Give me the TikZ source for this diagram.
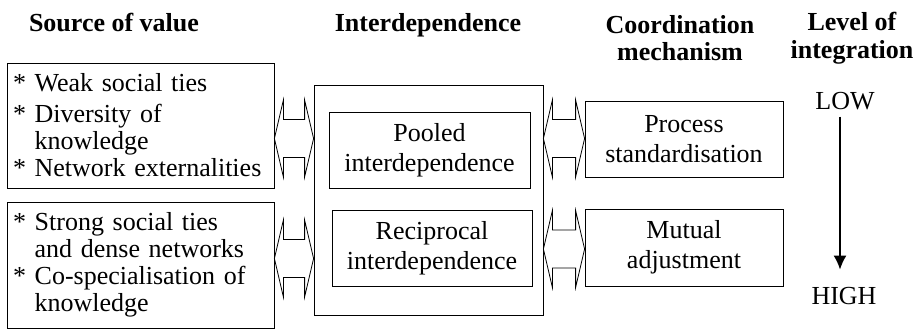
\documentclass[tikz,border=0pt]{standalone}
\usepackage{fontspec}
\setmainfont{Liberation Serif}
\usetikzlibrary{arrows.meta,calc}
\tikzset{
  srcbox/.style={draw, line width=0.8pt, minimum width=267pt, minimum height=125pt, text width=255pt, align=left, inner sep=0pt, font=\fontsize{26}{27}\selectfont},
  midbox/.style={draw, line width=0.8pt, minimum width=200pt, minimum height=76pt, align=center, inner sep=0pt, font=\fontsize{26}{30}\selectfont},
  heading/.style={font=\fontsize{26}{28}\selectfont\bfseries, align=center, inner sep=0pt},
  levelname/.style={font=\fontsize{26}{28}\selectfont, inner sep=0pt},
  levelarrow/.style={-{Latex[length=14pt,width=13pt]}, line width=1.6pt},
  twoway/.style={line width=0.8pt, to path={let \p1=(\tikztostart), \p2=(\tikztotarget) in
    -- (\x1+9pt,\y1+38.5pt) -- (\x1+9pt,\y1+19pt) -- (\x2-9pt,\y1+19pt)
    -- (\x2-9pt,\y1+38.5pt) -- (\x2,\y1) -- (\x2-9pt,\y1-38.5pt)
    -- (\x2-9pt,\y1-19pt) -- (\x1+9pt,\y1-19pt) -- (\x1+9pt,\y1-38.5pt) -- cycle}}
}

\begin{document}
\begin{tikzpicture}[x=1pt, y=-1pt]
  \useasboundingbox (0,0) rectangle (913,329);

  \node[heading, anchor=base] (hsource) at (114,32) {Source of value};
  \node[heading, anchor=base] (hinter) at (428,32) {Interdependence};
  \node[heading, anchor=base] (hcoord) at (680,61) {Coordination\\mechanism};
  \node[heading, anchor=base] (hlevel) at (852,59) {Level of\\integration};

  \node[srcbox] (weak) at (140.5,125.5) {{*}~Weak social ties\\[4pt] {*}~Diversity of\\ \hphantom{*~}knowledge\\ {*}~Network externalities};
  \node[srcbox, minimum height=126pt] (strong) at (140.5,265) {{*}~Strong social ties\\ \hphantom{*~}and dense networks\\ {*}~Co-specialisation of\\ \hphantom{*~}knowledge};

  \node[draw, line width=0.8pt, minimum width=229pt, minimum height=230pt] (inter) at (428.5,200) {};
  \node[midbox, minimum width=201pt] (pooled) at (429.5,150) {Pooled\\interdependence};
  \node[midbox] (recip) at (432,248) {Reciprocal\\interdependence};

  \node[midbox, minimum width=198pt] (process) at (684,139) {Process\\standardisation};
  \node[midbox, minimum width=198pt, minimum height=77pt] (mutual) at (684,247.5) {Mutual\\adjustment};

  \node[levelname] (low) at (845,101.5) {LOW};
  \node[levelname] (high) at (844,296.5) {HIGH};

  \coordinate (row1) at (0,138.5);
  \coordinate (row2) at (0,258.5);
  \coordinate (row3) at (0,249);
  \coordinate (axis) at (840,0);

  \draw[twoway] (weak.east |- row1) to (inter.west |- row1);
  \draw[twoway] (strong.east |- row2) to (inter.west |- row2);
  \draw[twoway] (inter.east |- row1) to (process.west |- row1);
  \draw[twoway] (inter.east |- row3) to (mutual.west |- row3);

  \draw[levelarrow, shorten <=6pt, shorten >=18pt] (low.south -| axis) -- (high.north -| axis);
\end{tikzpicture}
\end{document}
